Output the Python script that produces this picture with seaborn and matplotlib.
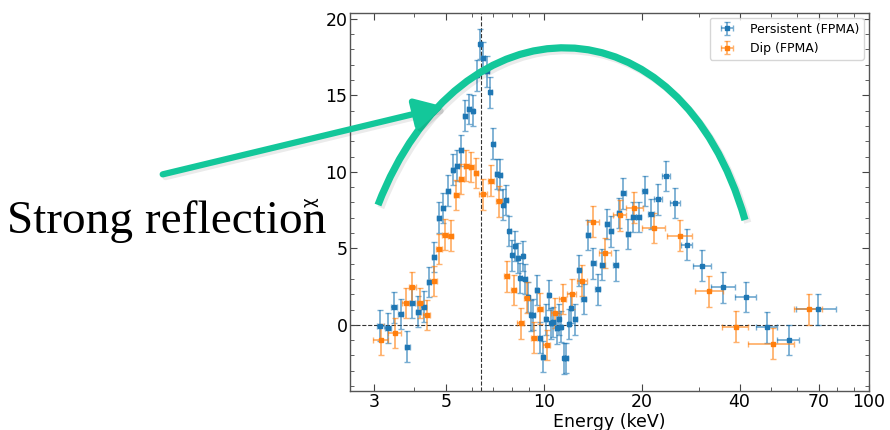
import numpy as np
import matplotlib
matplotlib.use("Agg")
import matplotlib.pyplot as plt
import seaborn as sns
from matplotlib.colors import to_rgba
from matplotlib.path import Path
from matplotlib.patches import PathPatch, FancyArrowPatch
import matplotlib.patheffects as pe
from matplotlib.ticker import FixedLocator, NullFormatter, MultipleLocator

# Persistent (FPMA): energy, residual chi, bin half-width
pers_energy = [3.145, 3.32, 3.46, 3.63, 3.80, 3.94, 4.11, 4.27, 4.43, 4.60,
               4.75, 4.91, 5.08, 5.24, 5.40, 5.57, 5.73, 5.88, 6.05, 6.21,
               6.37, 6.52, 6.68, 6.85, 7.00, 7.16, 7.34, 7.49, 7.66, 7.82,
               7.99, 8.15, 8.30, 8.46, 8.62, 8.78, 8.95, 9.12, 9.29, 9.52,
               9.74, 9.93, 10.14, 10.34, 10.53, 10.70, 10.94, 11.12, 11.30, 11.52,
               11.74, 11.94, 12.13, 12.46, 12.82, 13.25, 13.65, 14.18, 14.66, 15.15,
               15.63, 16.10, 16.62, 17.05, 17.54, 18.14, 18.84, 19.60, 20.40, 21.35,
               22.47, 23.80, 25.30, 27.55, 30.70, 35.60, 41.80, 48.50, 56.60, 69.50]
pers_chi = [-0.05, -0.2, 1.15, 0.72, -1.42, 1.44, 0.87, 1.2, 2.81, 4.44,
            7.0, 7.65, 8.78, 10.15, 10.4, 11.4, 13.68, 14.1, 14.0, 16.3,
            18.35, 17.47, 16.56, 15.2, 11.85, 9.86, 9.82, 7.85, 8.15, 6.14,
            4.55, 5.16, 4.38, 3.07, 4.51, 2.99, 1.81, 0.63, 0.67, 2.29,
            -0.83, -2.07, 0.37, 1.96, 0.11, 0.18, -0.22, 0.37, -0.11, -2.18,
            -2.16, 0.07, 1.11, 0.37, 3.57, 1.68, 5.88, 4.03, 2.33, 3.94,
            6.58, 6.12, 3.9, 7.3, 8.6, 5.95, 7.06, 7.06, 8.76, 7.25,
            8.21, 9.72, 7.97, 5.25, 3.88, 2.46, 1.83, -0.17, -0.98, 1.02]
pers_xerr = [0.07, 0.07, 0.07, 0.07, 0.07, 0.07, 0.07, 0.07, 0.07, 0.07,
             0.07, 0.07, 0.07, 0.07, 0.07, 0.07, 0.07, 0.07, 0.07, 0.07,
             0.07, 0.07, 0.08, 0.08, 0.08, 0.08, 0.08, 0.08, 0.08, 0.08,
             0.08, 0.08, 0.08, 0.08, 0.08, 0.08, 0.08, 0.08, 0.08, 0.10,
             0.10, 0.10, 0.10, 0.10, 0.10, 0.10, 0.10, 0.10, 0.10, 0.10,
             0.10, 0.10, 0.10, 0.15, 0.20, 0.20, 0.20, 0.25, 0.25, 0.25,
             0.25, 0.25, 0.25, 0.25, 0.30, 0.30, 0.35, 0.35, 0.40, 0.50,
             0.60, 0.70, 0.90, 1.05, 1.95, 3.0, 3.2, 3.6, 4.3, 9.7]

# Dip (FPMA)
dip_energy = [3.15, 3.48, 3.76, 3.94, 4.16, 4.36, 4.58, 4.77, 4.97, 5.17,
              5.38, 5.58, 5.78, 5.98, 6.19, 6.52, 6.88, 7.28, 7.68, 8.07,
              8.48, 8.89, 9.30, 9.72, 10.22, 10.83, 11.44, 12.19, 13.12, 14.20,
              15.44, 17.10, 19.00, 21.80, 26.20, 32.30, 38.90, 50.70, 65.40]
dip_chi = [-0.96, -0.52, 1.42, 2.46, 1.44, 0.65, 2.88, 4.97, 5.9, 5.84,
           8.5, 9.52, 10.4, 10.32, 9.93, 8.53, 9.42, 8.07, 3.18, 2.29,
           0.11, 1.78, -0.83, 1.07, -1.31, 0.78, 1.69, 2.03, 2.9, 6.75,
           4.7, 7.15, 7.67, 6.32, 5.83, 2.2, -0.11, -1.22, 1.02]
dip_xerr = [0.17, 0.16, 0.10, 0.10, 0.10, 0.10, 0.10, 0.10, 0.10, 0.10,
            0.10, 0.10, 0.10, 0.10, 0.10, 0.18, 0.15, 0.15, 0.15, 0.15,
            0.20, 0.20, 0.20, 0.20, 0.25, 0.30, 0.30, 0.40, 0.45, 0.60,
            0.70, 0.80, 1.15, 1.75, 2.3, 3.2, 3.55, 8.3, 6.5]

chi_err = 1.0
fe_line = 6.4
xticks = [3, 5, 10, 20, 40, 70, 100]

sns.set_style("ticks")
plt.rcParams["font.family"] = ["DejaVu Sans"]
plt.rcParams["text.color"] = "black"
plt.rcParams["axes.labelcolor"] = "black"
plt.rcParams["xtick.labelcolor"] = "black"
plt.rcParams["ytick.labelcolor"] = "black"

fig = plt.figure(figsize=(8.9, 4.3), dpi=100)
ax = fig.add_axes([0.3936, 0.0914, 0.5828, 0.8791])

blue = "#1f77b4"
orange = "#ff7f0e"
for e, c, xe, col, lab in [(pers_energy, pers_chi, pers_xerr, blue, "Persistent (FPMA)"),
                           (dip_energy, dip_chi, dip_xerr, orange, "Dip (FPMA)")]:
    ax.errorbar(e, c, xerr=xe, yerr=chi_err, fmt="s", ms=3.5, color=col,
                ecolor=to_rgba(col, 0.6), elinewidth=1.3, capsize=2, capthick=1,
                label=lab)

ax.axhline(0, color="k", ls="--", lw=0.8, alpha=0.8, zorder=0)
ax.axvline(fe_line, color="k", ls="--", lw=0.8, alpha=0.8, zorder=0)

ax.set_xscale("log")
ax.set_xlim(2.54, 100)
ax.set_ylim(-4.3, 20.4)
ax.xaxis.set_major_locator(FixedLocator(xticks))
ax.set_xticklabels([str(t) for t in xticks])
ax.xaxis.set_minor_formatter(NullFormatter())
ax.yaxis.set_major_locator(MultipleLocator(5))
ax.yaxis.set_minor_locator(MultipleLocator(1))
ax.tick_params(which="both", direction="in", top=True, right=True,
               labelsize=12.5, pad=2, color="#444444", labelcolor="black")
ax.tick_params(which="major", length=5)
ax.tick_params(which="minor", length=3)
for s in ax.spines.values():
    s.set_color("#555555")
    s.set_linewidth(1)

ax.set_xlabel("Energy (keV)", fontsize=12.5, labelpad=1, color="black")
ax.set_ylabel("χ", fontsize=12, color="black")
ax.yaxis.set_label_coords(-0.062, 0.5)
leg = ax.legend(loc="upper right", fontsize=9, frameon=True, borderaxespad=0.4)
for t in leg.get_texts():
    t.set_color("black")

# annotation overlay (figure pixel coords -> fraction)
W, H = 890.0, 430.0
def fp(x, y):
    return (x / W, 1 - y / H)

teal = "#13c79a"
shadow = [pe.SimpleLineShadow(offset=(2, -2), alpha=0.08, shadow_color="k"), pe.Normal()]
arc = Path([fp(378, 205), fp(460, -7), fp(680, -7), fp(745, 220)],
           [Path.MOVETO, Path.CURVE4, Path.CURVE4, Path.CURVE4])
fig.patches.append(PathPatch(arc, fill=False, edgecolor=teal, lw=5.2,
                             capstyle="butt", transform=fig.transFigure,
                             path_effects=shadow))
arrow = FancyArrowPatch(fp(160, 175), fp(447, 106), transform=fig.transFigure,
                        arrowstyle="-|>,head_length=17,head_width=9",
                        mutation_scale=1, color=teal, lw=4.5,
                        path_effects=shadow)
fig.patches.append(arrow)

fig.text(7 / W, 1 - 233 / H, "Strong reflection", fontsize=34,
         family="Liberation Serif", va="baseline", ha="left", color="black")

fig.savefig("out.png", dpi=100)
